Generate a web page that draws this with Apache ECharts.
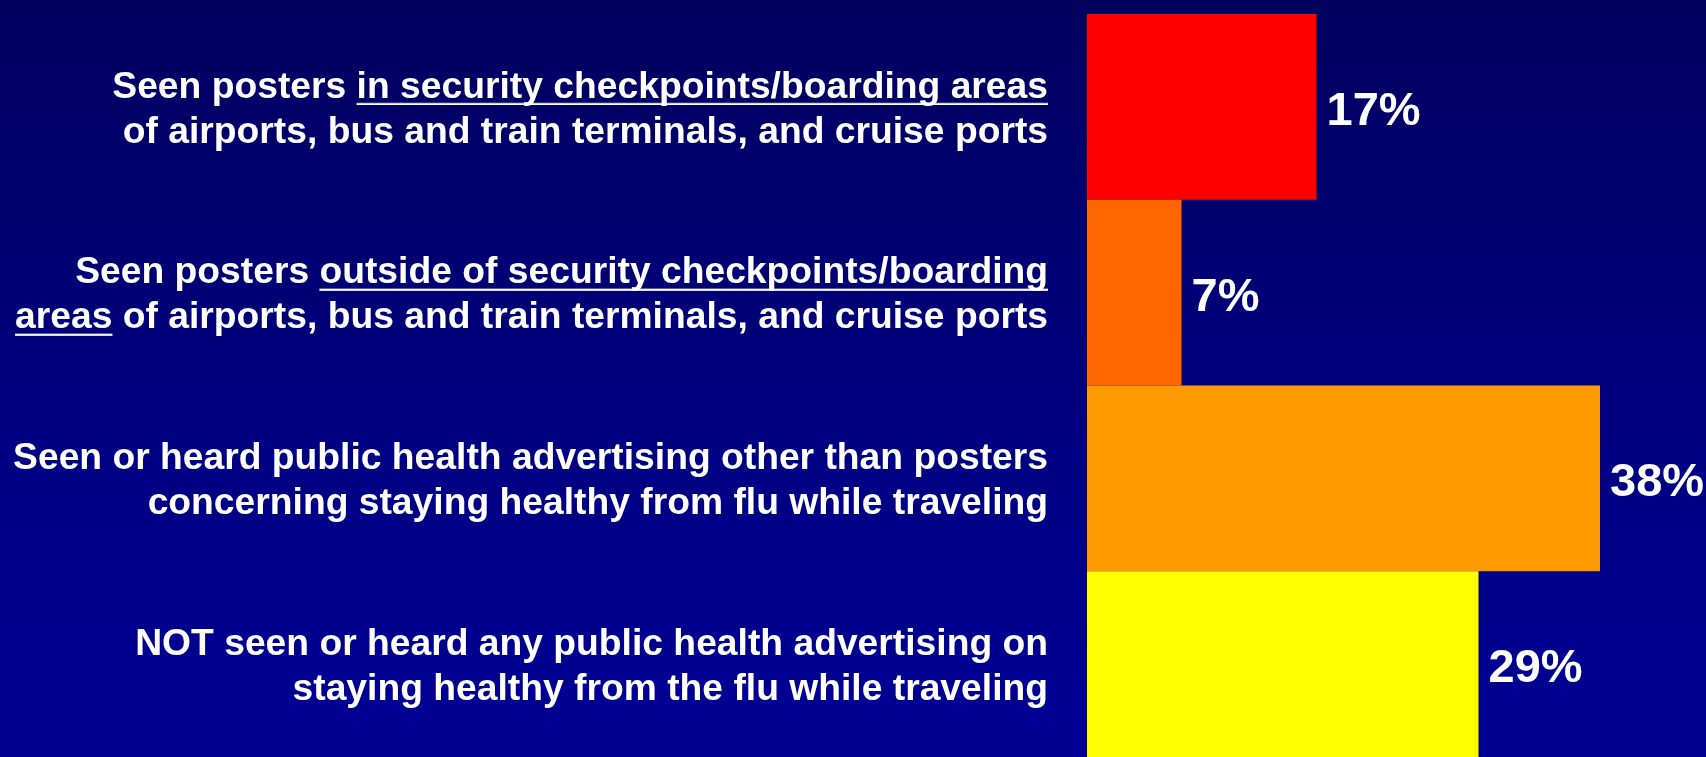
<!DOCTYPE html>
<html>
<head>
<meta charset="utf-8">
<script src="https://cdn.jsdelivr.net/npm/echarts@6/dist/echarts.min.js"></script>
<style>
  html, body { margin: 0; padding: 0; }
  #chart {
    width: 1706px;
    height: 757px;
    background: linear-gradient(to bottom, #00005e 0%, #000080 55%, #000096 100%);
  }
</style>
</head>
<body>
<div id="chart"></div>
<script>
// survey answers, top to bottom ({u|...} = underlined part)
const categories = [
  'Seen posters {u|in security checkpoints/boarding areas}\nof airports, bus and train terminals, and cruise ports',
  'Seen posters {u|outside of security checkpoints/boarding}\n{u|areas} of airports, bus and train terminals, and cruise ports',
  'Seen or heard public health advertising other than posters\nconcerning staying healthy from flu while traveling',
  'NOT seen or heard any public health advertising on\nstaying healthy from the flu while traveling'
];
const percents = [17, 7, 38, 29];
const barColors = ['#ff0000', '#ff6600', '#ff9900', '#ffff00'];

// thin white line at the bottom of the text box, used as an underline
const underline = document.createElement('canvas');
underline.width = 8;
underline.height = 45;
const ctx = underline.getContext('2d');
ctx.fillStyle = '#ffffff';
ctx.fillRect(0, 41.5, 8, 2.5);

const font = '"Liberation Sans", Arial, sans-serif';
const chart = echarts.init(document.getElementById('chart'));

chart.setOption({
  backgroundColor: 'transparent',
  animation: false,
  grid: { left: 1087, right: 11.5, top: 14, bottom: 0 },
  xAxis: {
    type: 'value',
    min: 0,
    max: 45,
    show: false
  },
  yAxis: {
    type: 'category',
    inverse: true,
    data: categories,
    axisLine: { show: false },
    axisTick: { show: false },
    axisLabel: {
      margin: 39,
      color: '#ffffff',
      fontFamily: font,
      fontWeight: 'bold',
      fontSize: 37.25,
      lineHeight: 45,
      padding: [6, 0, 0, 0],
      align: 'right',
      rich: {
        u: {
          color: '#ffffff',
          fontFamily: font,
          fontWeight: 'bold',
          fontSize: 37.25,
          lineHeight: 45,
          backgroundColor: { image: underline }
        }
      }
    }
  },
  series: [{
    type: 'bar',
    barWidth: '100%',
    barCategoryGap: 0,
    data: percents.map((v, i) => ({ value: v, itemStyle: { color: barColors[i] } })),
    label: {
      show: true,
      position: 'right',
      distance: 10,
      offset: [0, 5],
      formatter: '{c}%',
      color: '#ffffff',
      fontFamily: font,
      fontWeight: 'bold',
      fontSize: 47
    }
  }]
});
</script>
</body>
</html>
